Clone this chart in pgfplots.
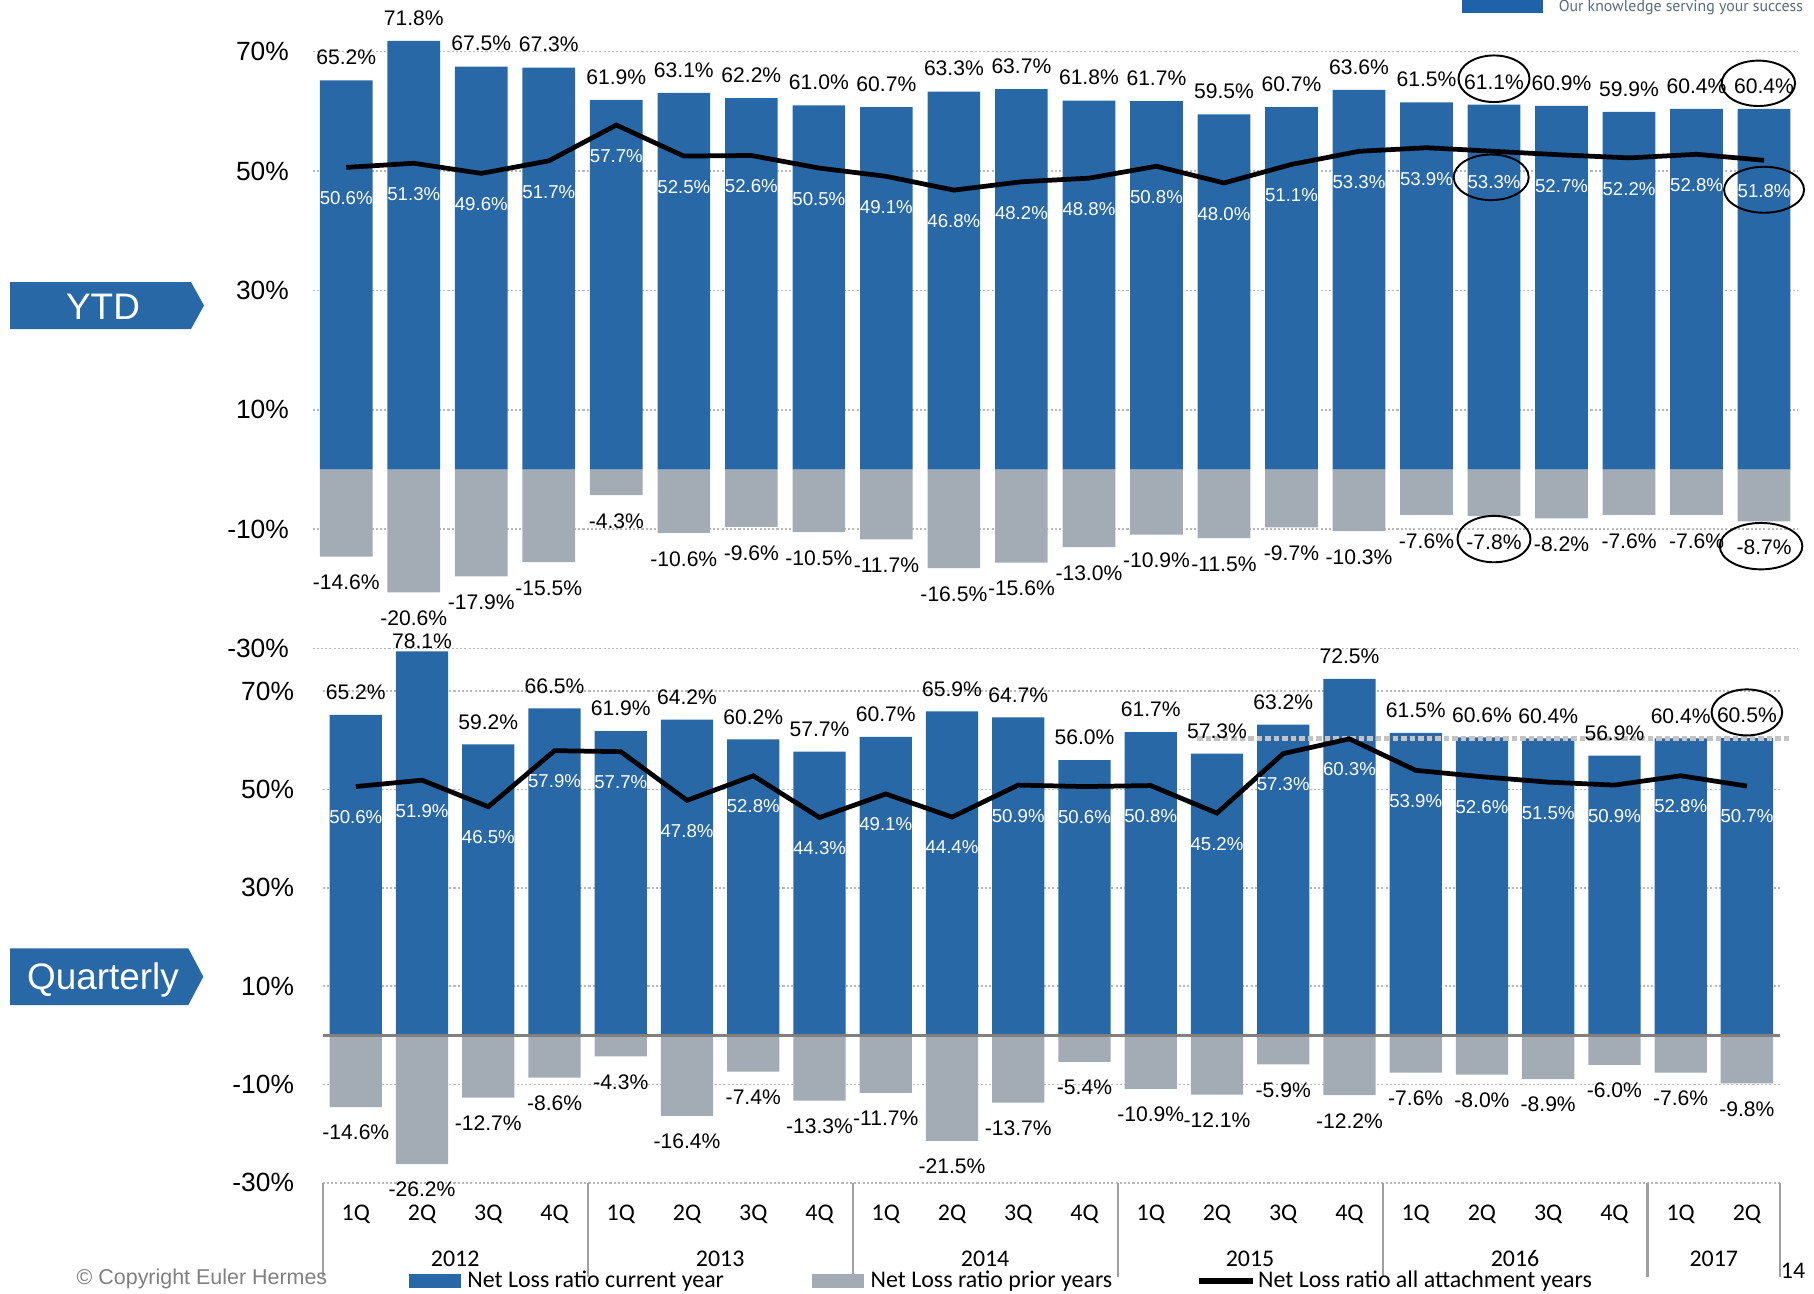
\documentclass[border=0pt]{standalone}
\usepackage{pgfplots}
\pgfplotsset{compat=1.18}
\usepackage{pgfplotstable}
\usetikzlibrary{shapes.geometric}
\usepackage{fontspec}
\setmainfont{Liberation Sans}
\newfontfamily\calfont{Carlito}
\newfontfamily\logofont{PT Sans}
\definecolor{barblue}{RGB}{40,104,166}
\definecolor{bargray}{RGB}{163,172,181}
\definecolor{gridgray}{RGB}{185,185,185}
\definecolor{refgray}{RGB}{195,195,195}
\definecolor{sepgray}{RGB}{160,160,160}
\definecolor{zerogray}{RGB}{128,128,128}
\definecolor{logoblue}{RGB}{32,98,170}
\definecolor{logotext}{RGB}{88,108,126}

\pgfplotstableread{
x cur line prior
0 65.2 50.6 -14.6
1 71.8 51.3 -20.6
2 67.5 49.6 -17.9
3 67.3 51.7 -15.5
4 61.9 57.7 -4.3
5 63.1 52.5 -10.6
6 62.2 52.6 -9.6
7 61.0 50.5 -10.5
8 60.7 49.1 -11.7
9 63.3 46.8 -16.5
10 63.7 48.2 -15.6
11 61.8 48.8 -13.0
12 61.7 50.8 -10.9
13 59.5 48.0 -11.5
14 60.7 51.1 -9.7
15 63.6 53.3 -10.3
16 61.5 53.9 -7.6
17 61.1 53.3 -7.8
18 60.9 52.7 -8.2
19 59.9 52.2 -7.6
20 60.4 52.8 -7.6
21 60.4 51.8 -8.7
}\ytd

% ls = vertical offset (mm) of the value label above the bar
\pgfplotstableread{
x cur line prior ls
0 65.2 50.6 -14.6 2.25
1 78.1 51.9 -26.2 1.06
2 59.2 46.5 -12.7 2.25
3 66.5 57.9 -8.6 2.25
4 61.9 57.7 -4.3 2.25
5 64.2 47.8 -16.4 2.25
6 60.2 52.8 -7.4 2.25
7 57.7 44.3 -13.3 2.25
8 60.7 49.1 -11.7 2.25
9 65.9 44.4 -21.5 2.25
10 64.7 50.9 -13.7 2.25
11 56.0 50.6 -5.4 2.25
12 61.7 50.8 -10.9 2.25
13 57.3 45.2 -12.1 2.25
14 63.2 57.3 -5.9 2.25
15 72.5 60.3 -12.2 2.25
16 61.5 53.9 -7.6 2.25
17 60.6 52.6 -8.0 2.25
18 60.4 51.5 -8.9 2.25
19 56.9 50.9 -6.0 2.25
20 60.4 52.8 -7.6 2.25
21 60.5 50.7 -9.8 2.25
}\qtr

\tikzset{hl/.style={draw=black, line width=0.55pt, ellipse, inner sep=0pt}}

\pgfplotsset{
  panel/.style={
    scale only axis,
    anchor=south west,
    xmin=-0.5, xmax=21.5,
    ymin=-30, ymax=70,
    ytick={-30,-10,10,30,50,70},
    yticklabels={-30\%,-10\%,10\%,30\%,50\%,70\%},
    axis line style={draw=none},
    tick style={draw=none},
    major tick length=0pt,
    ymajorgrids,
    major grid style={gridgray, line width=0.45pt, dash pattern=on 0.6pt off 0.6pt},
    clip=false,
    yticklabel style={font=\fontsize{7.5}{8}\selectfont, inner sep=0pt, anchor=east},
  },
  toplab/.style={nodes near coords={\pgfplotspointmeta\%}, point meta=explicit symbolic,
    every node near coord/.append style={font=\fontsize{6.0}{7}\selectfont, text=black, inner sep=0pt, anchor=center, yshift=#1}},
  whitelab/.style={nodes near coords={\pgfplotspointmeta\%}, point meta=explicit symbolic,
    every node near coord/.append style={font=\fontsize{5.3}{6}\selectfont, text=white, inner sep=0pt, anchor=center, yshift=#1}},
}

\begin{document}
\begin{tikzpicture}
\clip (0,0) rectangle (181.4mm,-129.3mm);
\useasboundingbox (0,0) rectangle (181.4mm,-129.3mm);

% ---------------- YTD panel ----------------
\begin{axis}[panel,
  at={(31.25mm,-64.86mm)}, width=148.53mm, height=59.7mm,
  xtick=\empty,
  yticklabel style={xshift=-2.3mm},
]
\addplot[ybar, bar width=0.78, bar shift=0pt, fill=barblue, draw=none, toplab=2.3mm]
  table[x=x, y=cur, meta=cur] {\ytd};
\addplot[ybar, bar width=0.78, bar shift=0pt, fill=bargray, draw=none, toplab=-2.6mm]
  table[x=x, y=prior, meta=prior] {\ytd};
\addplot[black, line width=1.35pt, mark=none, whitelab=-3.1mm]
  table[x=x, y=line, meta=line] {\ytd};
% highlight ellipses
\node[hl, minimum width=7.1mm, minimum height=4.66mm] at ([yshift=2.6mm]axis cs:17,61.1) {};
\node[hl, minimum width=7.34mm, minimum height=4.54mm] at ([xshift=-0.57mm,yshift=2.56mm]axis cs:21,60.4) {};
\node[hl, minimum width=7.5mm, minimum height=4.56mm] at ([xshift=-0.28mm,yshift=-2.6mm]axis cs:17,53.3) {};
\node[hl, minimum width=8.0mm, minimum height=4.6mm] at ([yshift=-2.95mm]axis cs:21,51.8) {};
\node[hl, minimum width=7.3mm, minimum height=4.64mm] at ([yshift=-2.3mm]axis cs:17,-7.8) {};
\node[hl, minimum width=8.26mm, minimum height=4.64mm] at ([xshift=-0.3mm,yshift=-2.47mm]axis cs:21,-8.7) {};
\end{axis}

% ---------------- Quarterly panel ----------------
\begin{axis}[panel,
  at={(32.27mm,-118.27mm)}, width=145.73mm, height=49.15mm,
  xtick={0,...,21},
  xticklabels={1Q,2Q,3Q,4Q,1Q,2Q,3Q,4Q,1Q,2Q,3Q,4Q,1Q,2Q,3Q,4Q,1Q,2Q,3Q,4Q,1Q,2Q},
  xticklabel style={font=\calfont\fontsize{6.8}{8}\selectfont, anchor=center, inner sep=0pt, yshift=-3.15mm},
  yticklabel style={xshift=-2.8mm},
]
\addplot[ybar, bar width=0.79, bar shift=0pt, fill=barblue, draw=none,
  nodes near coords={\pgfplotspointmeta\%}, point meta=explicit symbolic,
  visualization depends on={\thisrow{ls} \as \labshift},
  every node near coord/.append style={font=\fontsize{6.0}{7}\selectfont, text=black, inner sep=0pt, anchor=center, yshift=\labshift mm}]
  table[x=x, y=cur, meta=cur] {\qtr};
\addplot[ybar, bar width=0.79, bar shift=0pt, fill=bargray, draw=none, toplab=-2.55mm]
  table[x=x, y=prior, meta=prior] {\qtr};
\draw[zerogray, line width=0.7pt] (axis cs:-0.5,0) -- (axis cs:21.5,0);
\addplot[refgray, line width=1.4pt, dash pattern=on 0.55mm off 0.3mm, mark=none]
  coordinates {(12.7,60.3) (21.68,60.3)};
\addplot[black, line width=1.35pt, mark=none, whitelab=-3.05mm]
  table[x=x, y=line, meta=line] {\qtr};
\node[hl, minimum width=7.06mm, minimum height=4.6mm] at ([yshift=2.55mm]axis cs:21,60.5) {};
% year separators and labels
\pgfplotsinvokeforeach{-0.5,3.5,7.5,11.5,15.5,19.5,21.5}{
  \draw[sepgray, line width=0.6pt] (axis cs:#1,-30) -- ([yshift=-9.4mm]axis cs:#1,-30);
}
\node[font=\calfont\fontsize{6.8}{8}\selectfont, inner sep=0pt] at ([yshift=-7.6mm]axis cs:1.5,-30) {2012};
\node[font=\calfont\fontsize{6.8}{8}\selectfont, inner sep=0pt] at ([yshift=-7.6mm]axis cs:5.5,-30) {2013};
\node[font=\calfont\fontsize{6.8}{8}\selectfont, inner sep=0pt] at ([yshift=-7.6mm]axis cs:9.5,-30) {2014};
\node[font=\calfont\fontsize{6.8}{8}\selectfont, inner sep=0pt] at ([yshift=-7.6mm]axis cs:13.5,-30) {2015};
\node[font=\calfont\fontsize{6.8}{8}\selectfont, inner sep=0pt] at ([yshift=-7.6mm]axis cs:17.5,-30) {2016};
\node[font=\calfont\fontsize{6.8}{8}\selectfont, inner sep=0pt] at ([yshift=-7.6mm]axis cs:20.5,-30) {2017};
\end{axis}

% ---------------- decorations (pixel coordinates) ----------------
\begin{scope}[x=0.1mm, y=-0.1mm]
  % logo
  \fill[logoblue] (1462,-5) rectangle (1543,12.7);
  \node[anchor=base west, inner sep=0pt, font=\logofont\fontsize{4.5}{5}\selectfont, text=logotext] at (1558,11.7) {Our knowledge serving your success};
  % YTD box
  \fill[barblue] (10,282) -- (191,282) -- (204,305.5) -- (191,329) -- (10,329) -- cycle;
  \node[anchor=base, inner sep=0pt, font=\fontsize{10.5}{12}\selectfont, text=white] at (103,319) {YTD};
  % Quarterly box
  \fill[barblue] (10,948.3) -- (188.3,948.3) -- (203.3,976.7) -- (188.3,1005) -- (10,1005) -- cycle;
  \node[anchor=base, inner sep=0pt, font=\fontsize{10.5}{12}\selectfont, text=white] at (103,989.3) {Quarterly};
  % legend
  \fill[barblue] (409.3,1274.3) rectangle (461,1287.7);
  \node[anchor=base west, inner sep=0pt, font=\calfont\fontsize{6.8}{8}\selectfont] at (466.7,1287.3) {Net Loss ratio current year};
  \fill[bargray] (811.7,1274.3) rectangle (864,1287.7);
  \node[anchor=base west, inner sep=0pt, font=\calfont\fontsize{6.8}{8}\selectfont] at (870,1287.3) {Net Loss ratio prior years};
  \draw[black, line width=1.5pt] (1198.5,1281) -- (1253,1281);
  \node[anchor=base west, inner sep=0pt, font=\calfont\fontsize{6.8}{8}\selectfont] at (1257.5,1287.3) {Net Loss ratio all attachment years};
  % copyright and page number
  \node[anchor=base west, inner sep=0pt, font=\fontsize{6.1}{7}\selectfont, text=zerogray] at (76,1284.7) {\textcopyright{} Copyright Euler Hermes};
  \node[inner sep=0pt, font=\calfont\fontsize{6.8}{8}\selectfont] at (1793,1271) {14};
\end{scope}
\end{tikzpicture}
\end{document}
